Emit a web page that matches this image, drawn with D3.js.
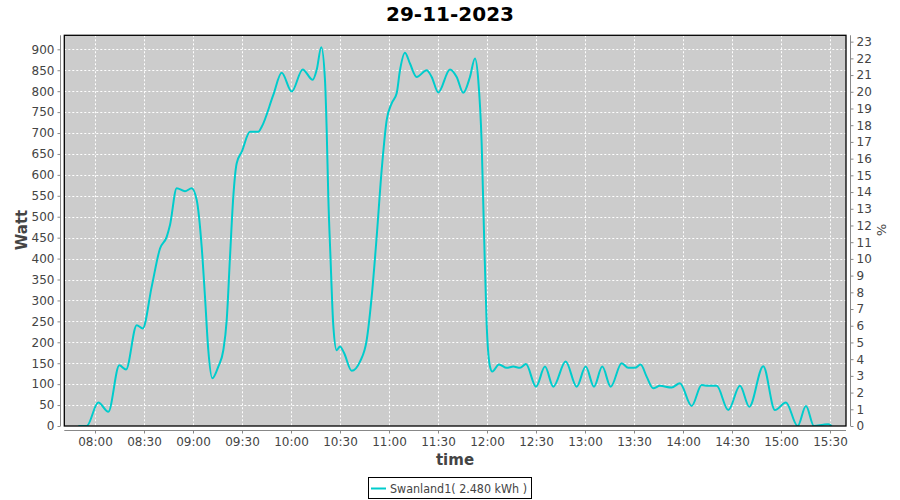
<!DOCTYPE html>
<html><head><meta charset="utf-8">
<script src="https://cdn.jsdelivr.net/npm/d3@7"></script>
<style>body{margin:0;background:#fff;}svg{display:block;font-family:"DejaVu Sans",sans-serif;}</style>
</head><body><svg id="c" width="900" height="500"></svg>
<script>
const title = "29-11-2023";
const seriesName = "Swanland1( 2.480 kWh )";
const times = ["07:49:48","07:54:55","08:02:00","08:08:09","08:14:53","08:19:00","08:25:32","08:29:12","08:34:43","08:39:48","08:43:54","08:45:55","08:50:01","08:55:06","08:59:12","09:02:16","09:05:19","09:07:20","09:09:22","09:11:49","09:15:29","09:18:33","09:20:38","09:22:39","09:24:40","09:26:45","09:29:49","09:34:54","09:39:59","09:42:04","09:49:10","09:54:18","10:00:25","10:07:09","10:13:17","10:15:44","10:18:33","10:20:48","10:21:51","10:22:50","10:24:10","10:25:53","10:27:58","10:30:00","10:32:26","10:37:09","10:42:14","10:46:20","10:49:24","10:52:27","10:55:31","10:58:35","11:01:38","11:04:42","11:06:43","11:09:47","11:12:50","11:16:56","11:23:04","11:26:08","11:30:10","11:37:20","11:41:26","11:45:28","11:49:34","11:52:38","11:54:39","11:56:44","11:58:08","11:59:47","12:01:49","12:03:13","12:07:20","12:12:02","12:16:06","12:20:11","12:23:51","12:30:00","12:35:30","12:40:35","12:48:10","12:54:55","13:00:25","13:05:30","13:10:35","13:15:43","13:22:26","13:26:28","13:30:35","13:34:04","13:37:44","13:41:47","13:45:50","13:53:00","13:58:06","14:05:17","14:11:25","14:15:28","14:20:37","14:27:43","14:34:53","14:40:35","14:49:08","14:56:18","15:03:01","15:10:11","15:15:17","15:20:11","15:25:55","15:29:00","15:31:05"];
const watts = [0,0,56,34,145,135,241,233,333,424,452,480,568,561,568,540,428,309,181,114,142,181,253,404,548,628,655,703,703,715,791,844,799,852,827,851,905,827,707,548,404,241,181,190,175,132,154,205,309,452,612,731,771,795,850,892,866,834,850,834,797,852,834,796,834,878,827,675,468,245,142,130,147,139,142,139,148,94,142,94,154,94,142,94,142,94,150,139,139,147,118,90,96,92,102,48,98,96,96,38,96,46,143,38,56,0,48,0,3,4,0];
const xTickLabels = ["08:00","08:30","09:00","09:30","10:00","10:30","11:00","11:30","12:00","12:30","13:00","13:30","14:00","14:30","15:00","15:30"];
const leftTicks = d3.range(0, 901, 50);
const rightTicks = d3.range(0, 24, 1);

const parse = d3.timeParse("%H:%M:%S");
const parseHM = d3.timeParse("%H:%M");
const data = times.map((t, i) => ({t: parse(t), w: watts[i]}));

const svg = d3.select("#c");
const L = 64.3, R = 846, T = 35.3, B = 426;
const x = d3.scaleTime().domain([parse("07:41:12"), parse("15:39:48")]).range([L, R]);
const y = d3.scaleLinear().domain([0, 933.5]).range([B, T]);
const y2 = d3.scaleLinear().domain([0, 23.38]).range([B, T]);
const txt = "#444";

svg.append("rect").attr("x", L).attr("y", T).attr("width", R - L).attr("height", B - T).attr("fill", "#cccccc");

const g = svg.append("g");
g.selectAll("line.h").data(leftTicks.filter(d => d > 0)).join("line")
  .attr("x1", L).attr("x2", R).attr("y1", d => Math.round(y(d)) + 0.5).attr("y2", d => Math.round(y(d)) + 0.5)
  .attr("stroke", "#fff").attr("stroke-dasharray", "2,2").attr("stroke-width", 1);
g.selectAll("line.v").data(xTickLabels.map(parseHM)).join("line")
  .attr("y1", T).attr("y2", B).attr("x1", d => Math.round(x(d)) + 0.5).attr("x2", d => Math.round(x(d)) + 0.5)
  .attr("stroke", "#fff").attr("stroke-dasharray", "2,2").attr("stroke-width", 1);

svg.append("clipPath").attr("id", "clip").append("rect").attr("x", L).attr("y", T).attr("width", R - L).attr("height", B - T);
svg.append("path").datum(data)
  .attr("clip-path", "url(#clip)")
  .attr("fill", "none").attr("stroke", "#00cccc").attr("stroke-width", 2).attr("stroke-linejoin", "round")
  .attr("d", d3.line().x(d => x(d.t)).y(d => y(d.w)).curve(d3.curveMonotoneX));

svg.append("rect").attr("x", L).attr("y", T).attr("width", R - L).attr("height", B - T)
  .attr("fill", "none").attr("stroke", "#000").attr("stroke-width", 1.3);

function styleAxis(sel) {
  sel.select(".domain").attr("stroke", "#888");
  sel.selectAll(".tick line").attr("stroke", "#888");
  sel.selectAll(".tick text").attr("fill", txt).attr("font-size", 12).attr("font-family", "DejaVu Sans, sans-serif");
}

const ax = svg.append("g").attr("transform", "translate(60.5,0)")
  .call(d3.axisLeft(y).tickValues(leftTicks).tickSize(3).tickSizeOuter(0).tickPadding(3));
ax.select(".domain").attr("d", `M0,${T}V${B}`);
styleAxis(ax);

const ar = svg.append("g").attr("transform", "translate(850.5,0)")
  .call(d3.axisRight(y2).tickValues(rightTicks).tickSize(3).tickSizeOuter(0).tickPadding(3));
ar.select(".domain").attr("d", `M0,${T}V${B}`);
styleAxis(ar);

const ab = svg.append("g").attr("transform", "translate(0,430.5)")
  .call(d3.axisBottom(x).tickValues(xTickLabels.map(parseHM)).tickFormat(d3.timeFormat("%H:%M")).tickSize(3).tickSizeOuter(0).tickPadding(4));
ab.select(".domain").attr("d", `M${L},0H${R}`);
styleAxis(ab);

svg.append("text").attr("x", 450).attr("y", 21).attr("text-anchor", "middle")
  .attr("font-size", 20).attr("font-weight", "bold").attr("fill", "#000").text(title);

svg.append("text").attr("transform", "translate(27,230) rotate(-90)").attr("text-anchor", "middle")
  .attr("font-size", 15).attr("font-weight", "bold").attr("fill", txt).text("Watt");
svg.append("text").attr("transform", "translate(877,230) rotate(90)").attr("text-anchor", "middle")
  .attr("font-size", 13).attr("fill", txt).text("%");
svg.append("text").attr("x", 455).attr("y", 465).attr("text-anchor", "middle")
  .attr("font-size", 15).attr("font-weight", "bold").attr("fill", txt).text("time");

const lg = svg.append("g");
lg.append("rect").attr("x", 368.5).attr("y", 477.5).attr("width", 163).attr("height", 21)
  .attr("fill", "#fff").attr("stroke", "#000").attr("stroke-width", 1);
lg.append("line").attr("x1", 371).attr("x2", 386).attr("y1", 488.5).attr("y2", 488.5)
  .attr("stroke", "#00cccc").attr("stroke-width", 2);
lg.append("text").attr("x", 390).attr("y", 492.5).attr("font-size", 12).attr("fill", txt)
  .attr("textLength", 137).attr("lengthAdjust", "spacingAndGlyphs").text(seriesName);
</script></body></html>
